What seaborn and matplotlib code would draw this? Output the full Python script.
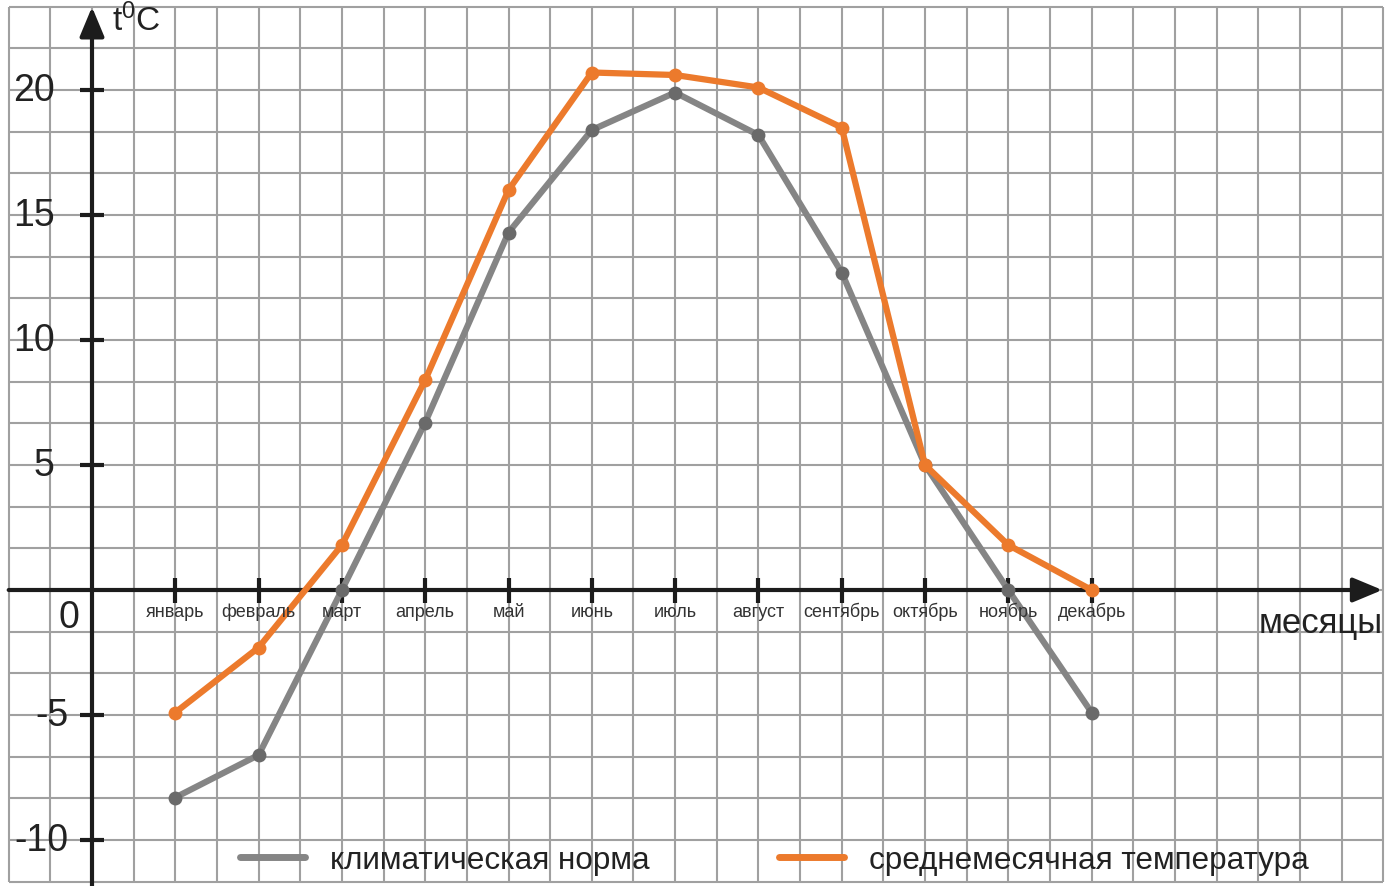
import matplotlib
matplotlib.use('Agg')
import matplotlib.pyplot as plt
from matplotlib.lines import Line2D
import numpy as np
import pandas as pd
import seaborn as sns

MONTHS = ['январь', 'февраль', 'март', 'апрель', 'май', 'июнь',
          'июль', 'август', 'сентябрь', 'октябрь', 'ноябрь', 'декабрь']
MONTH_NUM = list(range(1, 13))
NORM = [-8.3, -6.6, 0.0, 6.7, 14.3, 18.4, 19.9, 18.2, 12.7, 5.0, 0.0, -4.9]
MEAN_TEMP = [-4.9, -2.3, 1.8, 8.4, 16.0, 20.7, 20.6, 20.1, 18.5, 5.0, 1.8, 0.0]
Y_TICKS = [-10, -5, 5, 10, 15, 20]
SERIES = ['климатическая норма', 'среднемесячная температура']

GRAY = '#858585'
GRAY_DARK = '#6a6a6a'
ORANGE = '#ec7a2c'
AXIS_COL = '#1c1c1c'
GRID_COL = '#a0a0a0'

sns.set_style('white')
plt.rcParams['font.family'] = ['Liberation Sans', 'DejaVu Sans']
plt.rcParams['mathtext.default'] = 'regular'

df = pd.DataFrame({
    'month': MONTH_NUM * 2,
    'temp': NORM + MEAN_TEMP,
    'series': [SERIES[0]] * 12 + [SERIES[1]] * 12,
})

fig = plt.figure(figsize=(13.86, 8.87), dpi=100)
ax = fig.add_axes([0, 0, 1, 1])
px_x = 83.3
px_y = 25.0
ax.set_xlim(-92 / px_x, (1386 - 92) / px_x)
ax.set_ylim(-(887 - 591) / px_y, 591 / px_y)
ax.axis('off')

# squared paper grid
gx = np.arange(-1, 15.51, 0.5)
gy = np.arange(-35, 71, 5) / 3
ax.vlines(gx, gy[0], gy[-1], color=GRID_COL, lw=1.5, zorder=1)
ax.hlines(gy, gx[0], gx[-1], color=GRID_COL, lw=1.5, zorder=1)

# axes with arrows
ax.annotate('', xy=(15.49, 0), xytext=(-1, 0),
            arrowprops=dict(arrowstyle='-|>,head_length=0.6,head_width=0.25',
                            lw=3, color=AXIS_COL, mutation_scale=30,
                            shrinkA=0, shrinkB=0), zorder=3)
ax.annotate('', xy=(0, 23.32), xytext=(0, -11.84),
            arrowprops=dict(arrowstyle='-|>,head_length=0.6,head_width=0.25',
                            lw=3, color=AXIS_COL, mutation_scale=30,
                            shrinkA=0, shrinkB=0), zorder=3)
ax.vlines(MONTH_NUM, -0.5, 0.5, color=AXIS_COL, lw=3, zorder=3)
ax.hlines(Y_TICKS, -0.15, 0.15, color=AXIS_COL, lw=3, zorder=3)

# data lines
sub = df[df['series'] == SERIES[0]]
sns.lineplot(data=sub, x='month', y='temp', color=GRAY, lw=4.5, marker='o',
             markersize=10, markeredgewidth=0, ax=ax, zorder=4, legend=False)
sub = df[df['series'] == SERIES[1]]
sns.lineplot(data=sub, x='month', y='temp', color=ORANGE, lw=4.5, marker='o',
             markersize=10, markeredgewidth=0, ax=ax, zorder=5, legend=False)
for ln in ax.get_lines():
    if ln.get_color() == GRAY:
        ln.set_markerfacecolor(GRAY_DARK)

# labels
for m, name in zip(MONTH_NUM, MONTHS):
    ax.text(m, -0.85, name, ha='center', va='center', fontsize=13,
            color='#333333', zorder=6)
for t in Y_TICKS:
    xpos = -0.45 if t > 0 else -0.28
    ax.text(xpos, t, str(t), ha='right', va='center', fontsize=27,
            color='#222222', zorder=6)
ax.text(-0.15, -1.08, '0', ha='right', va='center', fontsize=27, color='#222222')
ax.text(0.24, 22.4, r't$^{0}$C', ha='left', va='baseline', fontsize=24,
        color='#222222')
ax.text(15.49, -1.68, 'месяцы', ha='right', va='baseline', fontsize=25,
        color='#222222')

handles = [Line2D([], [], color=GRAY, lw=5), Line2D([], [], color=ORANGE, lw=5)]
fig.legend(handles, SERIES, loc='center left', ncol=2, frameon=False,
           bbox_to_anchor=(240 / 1386, 1 - 861 / 887), bbox_transform=fig.transFigure,
           fontsize=22.7, handlelength=2.06, handletextpad=0.8, columnspacing=4.1,
           borderpad=0, borderaxespad=0, labelcolor='#222222')

fig.savefig('out.png', dpi=100)
